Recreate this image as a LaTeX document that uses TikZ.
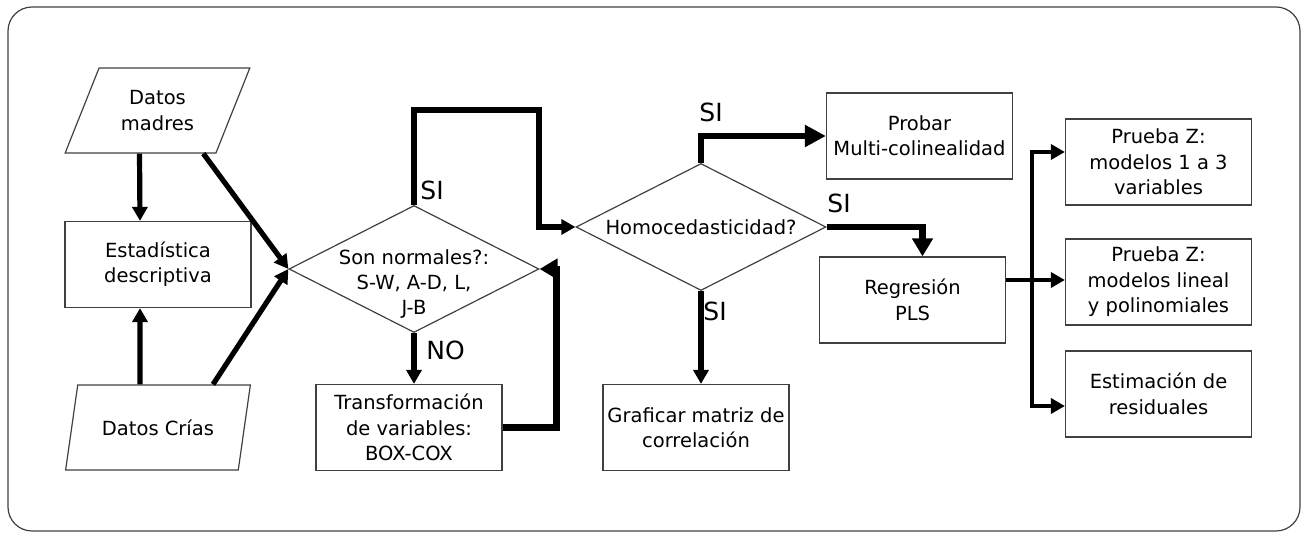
\documentclass[tikz,border=0pt]{standalone}
\usepackage{fontspec}
\setmainfont{DejaVu Sans}
\definecolor{Borde}{RGB}{64,64,64}
\usetikzlibrary{arrows.meta,positioning,calc,shapes.geometric}

\begin{document}
\begin{tikzpicture}[x=0.5pt,y=-0.5pt,
    every node/.style={font=\fontsize{9.75}{12.7}\selectfont,align=center},
    caja/.style={draw=Borde,line width=0.6pt,inner sep=0pt,
                 minimum width=93pt,minimum height=43pt},
    datos/.style={trapezium,trapezium left angle=62,trapezium right angle=118,
                  trapezium stretches=true,draw=Borde,line width=0.6pt,
                  inner sep=0pt,minimum width=92.5pt,minimum height=42.5pt},
    decision/.style={diamond,shape aspect=1.95,draw=Borde,line width=0.6pt,
                     inner sep=0pt,minimum width=125pt,minimum height=63.5pt},
    flecha/.style={-{Triangle[length=7pt,width=7.5pt]},line width=2.6pt},
    gruesa/.style={-{Triangle[length=9pt,width=10pt]},line width=3.3pt},
    etiq/.style={font=\fontsize{12.5}{14}\selectfont,anchor=west,inner sep=0pt}]
  \useasboundingbox (0,0) rectangle (1303,533);
  \draw[draw=Borde,line width=0.6pt,rounded corners=12pt] (8,7) rectangle (1300,531);

  % entradas
  \node[datos] (madres) at (157.5,110.5) {Datos\\madres};
  \node[caja]  (est)    at (158,264.5)   {Estadística\\descriptiva};
  \node[datos] (crias)  at (158,427.5)   {Datos Crías};

  % decisiones
  \node[decision] (d1) at (414,269) {};
  \node (d1txt) at (414,284) {Son normales?:\\S-W, A-D, L,\\J-B};
  \node[caja] (trans) at (409,427.5) {Transformación\\de variables:\\BOX-COX};
  \node[decision] (d2) at (701,227) {Homocedasticidad?};

  % salidas
  \node[caja] (probar) at (919.5,136) {Probar\\Multi-colinealidad};
  \node[caja] (reg)    at (912.5,300) {Regresión\\PLS};
  \node[caja] (graf)   at (696,427.5) {Graficar matriz de\\correlación};
  \foreach \n/\y/\t in {p1/162/{Prueba Z:\\modelos 1 a 3\\variables},
                        p2/282/{Prueba Z:\\modelos lineal\\y polinomiales},
                        p3/394/{Estimación de\\residuales}}
    \node[caja] (\n) at (1158.5,\y) {\t};

  \coordinate (lazo)   at (539,110);
  \coordinate (tronco) at (1032,280);

  % conectores
  \draw[flecha] ([xshift=-9pt]madres.south) -- ([xshift=-9pt]est.north);
  \draw[flecha] ([xshift=-9pt]crias.north) -- ([xshift=-9pt]est.south);
  \draw[flecha] ([xshift=-6.5pt]madres.bottom right corner) -- (d1.west);
  \draw[flecha] ([xshift=27.5pt]crias.north) -- (d1.west);
  \draw[flecha] (d1.north) |- (lazo) |- (d2.west);
  \draw[flecha] (d1.south) -- (d1.south |- trans.north);
  \draw[gruesa] (trans.east) -| ($(d1.east)+(17,0)$) -- (d1.east);
  \draw[gruesa,-{Triangle[length=10.5pt,width=10.5pt]}] (d2.north) |- (probar.west);
  \draw[gruesa] (d2.east) -| ([xshift=5pt]reg.north);
  \draw[flecha] (d2.south) -- (d2.south |- graf.north);
  \draw[line width=2.4pt] ([yshift=10pt]reg.east) -- (tronco);
  \foreach \p/\s in {p1/5pt,p2/1pt,p3/-6pt}
    \draw[flecha,line width=2.4pt] (tronco) |- ([yshift=\s]\p.west);

  % etiquetas
  \node[etiq] (si1) at (420,190) {SI};
  \node[etiq] (si2) at (699,112) {SI};
  \node[etiq] (si3) at (827,203) {SI};
  \node[etiq] (si4) at (703,311) {SI};
  \node[etiq] (no1) at (426,350) {NO};
\end{tikzpicture}
\end{document}
